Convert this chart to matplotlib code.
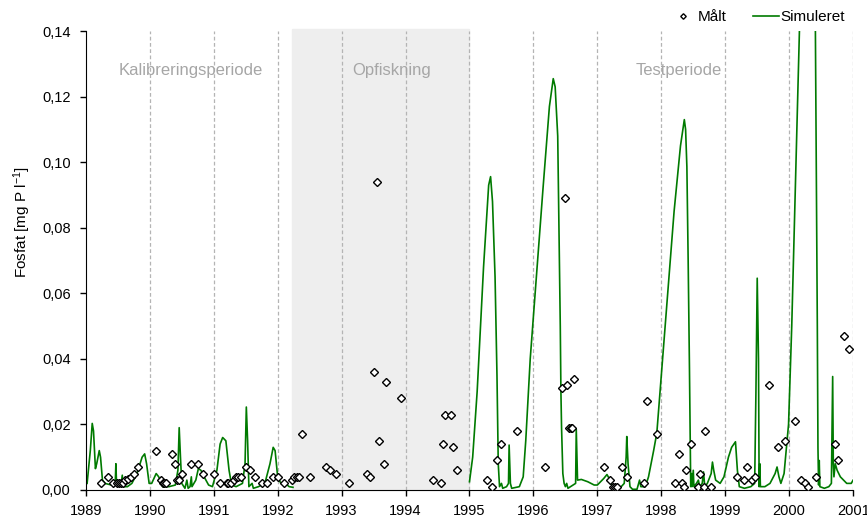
import numpy as np
import matplotlib
matplotlib.use('Agg')
import matplotlib.pyplot as plt
from matplotlib.ticker import FuncFormatter

plt.rcParams['font.family'] = ['Liberation Sans', 'DejaVu Sans']
plt.rcParams['mathtext.default'] = 'regular'

###simuleret fosfat, kalibreringsperiode###
sim_kal_t = [1989.02, 1989.07, 1989.10, 1989.12, 1989.15, 1989.17, 1989.21, 1989.23, 1989.26, 1989.30,
             1989.40, 1989.46, 1989.47, 1989.48, 1989.55, 1989.57, 1989.58, 1989.65, 1989.72, 1989.80,
             1989.88, 1989.92, 1989.95, 1989.99, 1990.03, 1990.10, 1990.14, 1990.20, 1990.30, 1990.40,
             1990.44, 1990.46, 1990.48, 1990.50, 1990.55, 1990.58, 1990.60, 1990.63, 1990.65, 1990.66,
             1990.72, 1990.76, 1990.80, 1990.85, 1990.92, 1990.98, 1991.05, 1991.10, 1991.14, 1991.19,
             1991.24, 1991.28, 1991.35, 1991.45, 1991.49, 1991.51, 1991.53, 1991.55, 1991.60, 1991.62,
             1991.70, 1991.80, 1991.88, 1991.93, 1991.96, 1992.00, 1992.05, 1992.12, 1992.18, 1992.24]
sim_kal_v = [0.002, 0.012, 0.0203, 0.018, 0.0065, 0.008, 0.012, 0.010, 0.003, 0.002,
             0.0015, 0.002, 0.008, 0.002, 0.0015, 0.0045, 0.001, 0.001, 0.002, 0.005,
             0.010, 0.011, 0.008, 0.002, 0.002, 0.005, 0.004, 0.001, 0.001, 0.0015,
             0.006, 0.019, 0.010, 0.002, 0.0005, 0.003, 0.0005, 0.001, 0.004, 0.001,
             0.003, 0.0065, 0.006, 0.004, 0.0015, 0.001, 0.006, 0.014, 0.016, 0.015,
             0.006, 0.0015, 0.001, 0.002, 0.008, 0.0253, 0.015, 0.001, 0.002, 0.0005,
             0.001, 0.002, 0.008, 0.013, 0.012, 0.004, 0.002, 0.002, 0.001, 0.0008]

###simuleret fosfat, testperiode###
sim_test_t = [1995.00, 1995.05, 1995.12, 1995.22, 1995.30, 1995.33, 1995.36, 1995.40, 1995.43, 1995.45,
              1995.47, 1995.50, 1995.52, 1995.58, 1995.61, 1995.62, 1995.64, 1995.66, 1995.78, 1995.84,
              1995.88, 1995.95, 1996.05, 1996.15, 1996.25, 1996.31, 1996.34, 1996.38, 1996.42, 1996.43,
              1996.44, 1996.46, 1996.48, 1996.50, 1996.52, 1996.54, 1996.66, 1996.67, 1996.69, 1996.75,
              1996.85, 1996.95, 1997.00, 1997.10, 1997.15, 1997.20, 1997.25, 1997.35, 1997.42, 1997.45,
              1997.46, 1997.48, 1997.51, 1997.55, 1997.62, 1997.66, 1997.68, 1997.75, 1997.80, 1997.88,
              1997.93, 1997.99, 1998.10, 1998.20, 1998.30, 1998.36, 1998.38, 1998.40, 1998.42, 1998.44,
              1998.46, 1998.47, 1998.48, 1998.50, 1998.51, 1998.55, 1998.58, 1998.60, 1998.64, 1998.66,
              1998.68, 1998.72, 1998.78, 1998.80, 1998.82, 1998.85, 1998.92, 1998.98, 1999.05, 1999.10,
              1999.16, 1999.19, 1999.22, 1999.30, 1999.40, 1999.46, 1999.48, 1999.50, 1999.52, 1999.53,
              1999.54, 1999.55, 1999.62, 1999.70, 1999.78, 1999.81, 1999.84, 1999.87, 1999.92, 1999.99,
              2000.04, 2000.10, 2000.16, 2000.25, 2000.35, 2000.41, 2000.44, 2000.45, 2000.46, 2000.47,
              2000.48, 2000.55, 2000.62, 2000.66, 2000.68, 2000.69, 2000.70, 2000.72, 2000.75, 2000.80,
              2000.90, 2000.97, 2001.00]
sim_test_v = [0.0025, 0.010, 0.030, 0.068, 0.093, 0.0956, 0.088, 0.065, 0.035, 0.008,
              0.001, 0.002, 0.0005, 0.001, 0.002, 0.0137, 0.002, 0.0005, 0.001, 0.004,
              0.015, 0.040, 0.066, 0.092, 0.117, 0.1255, 0.123, 0.108, 0.050, 0.030,
              0.019, 0.005, 0.002, 0.001, 0.002, 0.0005, 0.002, 0.0185, 0.003, 0.0032,
              0.0025, 0.0015, 0.0015, 0.0035, 0.0047, 0.003, 0.0005, 0.0005, 0.002, 0.010,
              0.0163, 0.008, 0.001, 0.0002, 0.0002, 0.003, 0.001, 0.001, 0.004, 0.012,
              0.0174, 0.0325, 0.060, 0.085, 0.105, 0.113, 0.110, 0.0986, 0.070, 0.0376,
              0.001, 0.005, 0.001, 0.006, 0.001, 0.002, 0.003, 0.001, 0.002, 0.0055,
              0.001, 0.002, 0.005, 0.0085, 0.006, 0.003, 0.002, 0.004, 0.010, 0.013,
              0.0147, 0.006, 0.001, 0.0005, 0.001, 0.002, 0.030, 0.0646, 0.040, 0.001,
              0.008, 0.001, 0.001, 0.002, 0.005, 0.007, 0.004, 0.002, 0.005, 0.020,
              0.050, 0.095, 0.140, 0.160, 0.160, 0.140, 0.050, 0.0128, 0.0015, 0.009,
              0.001, 0.0005, 0.001, 0.002, 0.0346, 0.008, 0.004, 0.008, 0.006, 0.004,
              0.002, 0.002, 0.003]

###maalte vaerdier###
maalt_t = [1989.23, 1989.34, 1989.43, 1989.49, 1989.52, 1989.55, 1989.58, 1989.62, 1989.66, 1989.70,
           1989.76, 1989.82, 1990.10, 1990.17, 1990.20, 1990.23, 1990.26, 1990.35, 1990.39, 1990.42,
           1990.45, 1990.50, 1990.65, 1990.76, 1990.83, 1991.00, 1991.10, 1991.20, 1991.23, 1991.27,
           1991.31, 1991.35, 1991.38, 1991.42, 1991.50, 1991.57, 1991.65, 1991.75, 1991.83, 1991.92,
           1992.01, 1992.10, 1992.23, 1992.26, 1992.31, 1992.34, 1992.38, 1992.50, 1992.75, 1992.82,
           1992.92, 1993.11, 1993.40, 1993.44, 1993.51, 1993.55, 1993.59, 1993.67, 1993.70, 1993.93,
           1994.43, 1994.55, 1994.58, 1994.62, 1994.71, 1994.74, 1994.80,
           1995.28, 1995.35, 1995.43, 1995.50, 1995.74, 1996.18, 1996.45, 1996.49, 1996.53, 1996.56,
           1996.59, 1996.61, 1996.64, 1997.11, 1997.20, 1997.24, 1997.27, 1997.31, 1997.38, 1997.47,
           1997.73, 1997.78, 1997.94, 1998.22, 1998.27, 1998.32, 1998.36, 1998.38, 1998.47, 1998.57,
           1998.61, 1998.66, 1998.69, 1998.77, 1999.19, 1999.30, 1999.34, 1999.42, 1999.46, 1999.69,
           1999.82, 1999.94, 2000.09, 2000.18, 2000.24, 2000.29, 2000.42, 2000.72, 2000.76, 2000.86,
           2000.93]
maalt_v = [0.002, 0.004, 0.002, 0.002, 0.002, 0.002, 0.002, 0.003, 0.0033, 0.004,
           0.005, 0.007, 0.012, 0.003, 0.002, 0.002, 0.002, 0.011, 0.008, 0.003,
           0.003, 0.005, 0.008, 0.008, 0.005, 0.005, 0.002, 0.002, 0.002, 0.002,
           0.003, 0.004, 0.004, 0.004, 0.007, 0.006, 0.004, 0.002, 0.002, 0.004,
           0.004, 0.002, 0.003, 0.004, 0.004, 0.004, 0.017, 0.004, 0.007, 0.006,
           0.005, 0.002, 0.005, 0.004, 0.036, 0.094, 0.015, 0.008, 0.033, 0.028,
           0.003, 0.002, 0.014, 0.023, 0.023, 0.013, 0.006,
           0.003, 0.001, 0.009, 0.014, 0.018, 0.007, 0.031, 0.089, 0.032, 0.019,
           0.019, 0.019, 0.034, 0.007, 0.003, 0.001, 0.001, 0.001, 0.007, 0.004,
           0.002, 0.027, 0.017, 0.002, 0.011, 0.002, 0.001, 0.006, 0.014, 0.001,
           0.005, 0.001, 0.018, 0.001, 0.004, 0.003, 0.007, 0.003, 0.004, 0.032,
           0.013, 0.015, 0.021, 0.003, 0.002, 0.001, 0.004, 0.014, 0.009, 0.047,
           0.043]

aar = list(range(1989, 2002))
yticks = [0.0, 0.02, 0.04, 0.06, 0.08, 0.10, 0.12, 0.14]
perioder = ['Kalibreringsperiode', 'Opfiskning', 'Testperiode']
periode_x = [1990.64, 1993.79, 1998.28]
opfiskning = (1992.23, 1995.0)

fig = plt.figure(figsize=(8.67, 5.19), dpi=100)
ax = fig.add_axes([0.099, 0.056, 0.885, 0.884])

ax.axvspan(opfiskning[0], opfiskning[1], ymin=0, ymax=1.005, color='#eeeeee', zorder=0, clip_on=False)
for a in aar[1:]:
    ax.axvline(a, color='#b4b4b4', linestyle=(0, (3, 2)), linewidth=0.9, zorder=1)

ax.plot(sim_kal_t, sim_kal_v, color='#007a00', linewidth=1.2, zorder=2, label='Simuleret')
ax.plot(sim_test_t, sim_test_v, color='#007a00', linewidth=1.2, zorder=2)
ax.plot(maalt_t, maalt_v, linestyle='none', marker='D', markersize=4, markerfacecolor='white',
        markeredgecolor='black', markeredgewidth=1.0, zorder=3, label='Målt')

for navn, px in zip(perioder, periode_x):
    ax.text(px, 0.1281, navn, ha='center', va='center', fontsize=12, color='#a6a6a6', zorder=4)

ax.set_xlim(1989, 2001)
ax.set_ylim(0, 0.14)
ax.set_xticks(aar)
ax.set_yticks(yticks)
ax.yaxis.set_major_formatter(FuncFormatter(lambda v, p: ('%.2f' % v).replace('.', ',')))
ax.tick_params(labelsize=10.5, length=4, width=1, direction='out', colors='black')
ax.tick_params(axis='y', pad=7)
ax.tick_params(axis='x', pad=6)
ax.spines['top'].set_visible(False)
ax.spines['right'].set_visible(False)
ax.set_ylabel('Fosfat [mg P l$^{-1}$]', fontsize=11, va='center')
ax.yaxis.set_label_coords(-0.083, 0.583)

h, l = ax.get_legend_handles_labels()
fig.legend([h[1], h[0]], [l[1], l[0]], loc='center right', bbox_to_anchor=(0.99, 0.967), ncol=2,
           frameon=False, fontsize=11, handlelength=1.7, handletextpad=0.1, columnspacing=1.7,
           markerscale=0.7)

fig.savefig('out.png', dpi=100)
